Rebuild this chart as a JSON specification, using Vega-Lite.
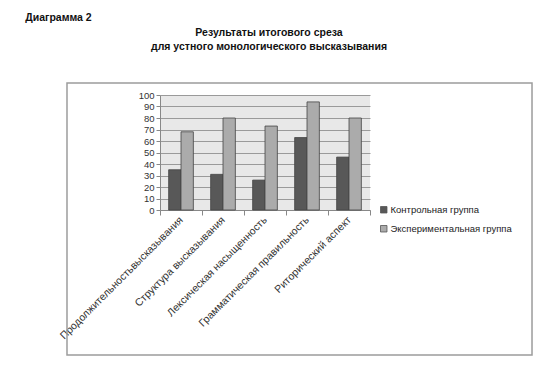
{
  "$schema": "https://vega.github.io/schema/vega-lite/v6.json",
  "autosize": {"type": "pad"},
  "padding": {"left": 25, "top": 13, "right": 5, "bottom": 5},
  "background": "white",
  "title": {"text": "Диаграмма 2", "anchor": "start", "frame": "bounds", "font": "Liberation Sans", "fontSize": 10.5, "fontWeight": "bold", "color": "#111", "dx": -33, "offset": 4},
  "vconcat": [
    {
      "width": 210,
      "height": 115,
      "title": {
        "text": ["Результаты итогового среза", "для устного монологического высказывания"],
        "anchor": "middle",
        "frame": "group",
        "font": "Liberation Sans",
        "fontSize": 10.5,
        "fontWeight": "bold",
        "color": "#111",
        "lineHeight": 14,
        "offset": 30,
        "dx": 4
      },
      "layer": [
        {
          "data": {"values": [{"frame": "chart"}]},
          "mark": {"type": "rect", "fill": "white", "fillOpacity": 0, "stroke": "#9c9c9c", "strokeWidth": 1.5},
          "encoding": {
            "x": {"datum": 0, "type": "quantitative", "scale": {"domain": [0.2, 0.6516], "nice": false, "zero": false}, "axis": null},
            "x2": {"datum": 1},
            "y": {"datum": 0, "type": "quantitative", "scale": {"domain": [0.5331, 0.9559], "nice": false, "zero": false}, "axis": null},
            "y2": {"datum": 1}
          }
        },
        {
          "data": {
            "values": [
              {"criterion": "Продолжительностьвысказывания", "group": "Контрольная группа", "value": 35},
              {"criterion": "Продолжительностьвысказывания", "group": "Экспериментальная группа", "value": 68},
              {"criterion": "Структура высказывания", "group": "Контрольная группа", "value": 31},
              {"criterion": "Структура высказывания", "group": "Экспериментальная группа", "value": 80},
              {"criterion": "Лексическая насыщенность", "group": "Контрольная группа", "value": 26},
              {"criterion": "Лексическая насыщенность", "group": "Экспериментальная группа", "value": 73},
              {"criterion": "Грамматическая правильность", "group": "Контрольная группа", "value": 63},
              {"criterion": "Грамматическая правильность", "group": "Экспериментальная группа", "value": 94},
              {"criterion": "Риторический аспект", "group": "Контрольная группа", "value": 46},
              {"criterion": "Риторический аспект", "group": "Экспериментальная группа", "value": 80}
            ]
          },
          "mark": {"type": "bar", "stroke": "#444", "strokeWidth": 0.8},
          "encoding": {
            "x": {
              "field": "criterion",
              "type": "nominal",
              "sort": null,
              "scale": {"paddingInner": 0, "paddingOuter": 0},
              "axis": {
                "title": null,
                "labelAngle": -45,
                "labelAlign": "right",
                "labelBaseline": "middle",
                "tickBand": "extent",
                "tickSize": 5,
                "tickColor": "#888",
                "domainColor": "#888",
                "labelFont": "Liberation Sans",
                "labelFontSize": 10.5,
                "labelColor": "#333",
                "labelPadding": 3,
                "labelLimit": 300
              }
            },
            "xOffset": {"field": "group", "sort": null, "scale": {"paddingInner": 0, "paddingOuter": 0.7}},
            "y": {
              "field": "value",
              "type": "quantitative",
              "scale": {"domain": [0, 100], "nice": false},
              "axis": {
                "title": null,
                "values": [0, 10, 20, 30, 40, 50, 60, 70, 80, 90, 100],
                "grid": true,
                "gridColor": "#9a9a9a",
                "gridWidth": 1,
                "tickSize": 4,
                "tickColor": "#888",
                "domainColor": "#888",
                "labelFont": "Liberation Sans",
                "labelFontSize": 9.5,
                "labelColor": "#333",
                "labelPadding": 2
              }
            },
            "color": {
              "field": "group",
              "type": "nominal",
              "sort": null,
              "scale": {"domain": ["Контрольная группа", "Экспериментальная группа"], "range": ["#585858", "#ababab"]},
              "legend": {
                "title": null,
                "orient": "none",
                "legendX": 219,
                "legendY": 110,
                "symbolType": "square",
                "symbolSize": 42,
                "symbolStrokeColor": "#555",
                "symbolStrokeWidth": 0.8,
                "labelFont": "Liberation Sans",
                "labelFontSize": 9.5,
                "labelColor": "#222",
                "labelOffset": 2,
                "rowPadding": 8,
                "padding": 0
              }
            }
          }
        }
      ],
      "resolve": {"scale": {"x": "independent", "y": "independent"}}
    }
  ],
  "config": {
    "view": {"fill": "#e8e8e8", "stroke": null}
  }
}
